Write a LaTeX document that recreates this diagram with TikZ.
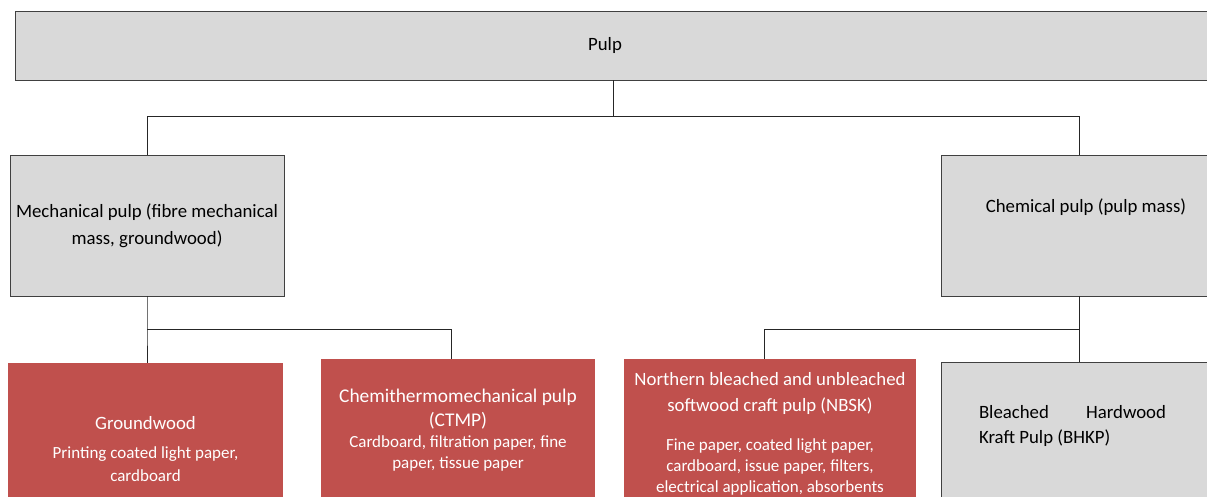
\documentclass[tikz,border=0pt]{standalone}
\usepackage{fontspec}
\setmainfont{Carlito}
\definecolor{boxgrey}{HTML}{D9D9D9}
\definecolor{boxred}{HTML}{C0504D}
\definecolor{edgegrey}{HTML}{404040}
\newcommand{\titlefont}{\fontsize{18.8}{25}\selectfont}
\tikzset{
  greybox/.style={draw=edgegrey,fill=boxgrey,line width=0.8pt,inner sep=0pt,align=center,
    font=\fontsize{18.8}{26.5}\selectfont},
  redbox/.style={fill=boxred,text=white,inner sep=0pt,align=center,
    font=\fontsize{17}{21}\selectfont},
  link/.style={draw=black!85,line width=0.8pt},
  tt/.style={font=\fontsize{18.8}{24.5}\selectfont}
}
\begin{document}
\begin{tikzpicture}[x=1pt,y=-1pt]
\useasboundingbox (0,0) rectangle (1207,497);
\clip (0,0) rectangle (1207,497);
% top level
\node[greybox,minimum width=1196,minimum height=69] (pulp) at (613,45.5) {Pulp\kern16pt};
\node[greybox,minimum width=274,minimum height=141] (mech) at (147,225.5)
  {Mechanical pulp (fibre mechanical\\mass, groundwood)};
\node[greybox,minimum width=276,minimum height=141] (chem) at (1079,225.5) {};
\node[tt] (chemtxt) at (1086,207) {Chemical pulp (pulp mass)};
% grades
\node[redbox,minimum width=275,minimum height=172,font=\fontsize{17}{23.3}\selectfont] (gw) at (145.5,449)
  {{\titlefont Groundwood}\\[5.7pt]Printing coated light paper,\\cardboard};
\node[redbox,minimum width=274,minimum height=142] (ctmp) at (458,430)
  {{\fontsize{19.4}{24}\selectfont Chemithermomechanical pulp}\\[3pt]{\fontsize{19.4}{24}\selectfont (CTMP)}\\[0.6pt]Cardboard, filtration paper, fine\\paper, tissue paper};
\node[redbox,minimum width=292,minimum height=149] (nbsk) at (770,433.5)
  {{\titlefont Northern bleached and unbleached}\\[5.7pt]{\titlefont softwood craft pulp (NBSK)}\\[17.3pt]Fine paper, coated light paper,\\cardboard, issue paper, filters,\\electrical application, absorbents};
\node[greybox,minimum width=276,minimum height=160] (bhkp) at (1079,442) {};
\node[tt,align=left] (bhkptxt) at (1072.5,426)
  {\hbox to 187pt{Bleached\hfill Hardwood}\\Kraft Pulp (BHKP)};
% connectors
\coordinate (j1) at (613,116);
\coordinate (j2) at (147,329);
\coordinate (j3) at (1079,329);
\draw[link] (pulp.south -| j1) -- (j1) -| (mech.north);
\draw[link] (j1) -| (chem.north);
\draw[link] (mech.south) -- (j2) -- (gw.north -| j2);
\draw[link] (j2) -| ([xshift=-7]ctmp.north);
\draw[link] (chem.south) -- (j3) -- (bhkp.north);
\draw[link] (j3) -| ([xshift=-6]nbsk.north);
\end{tikzpicture}
\end{document}
